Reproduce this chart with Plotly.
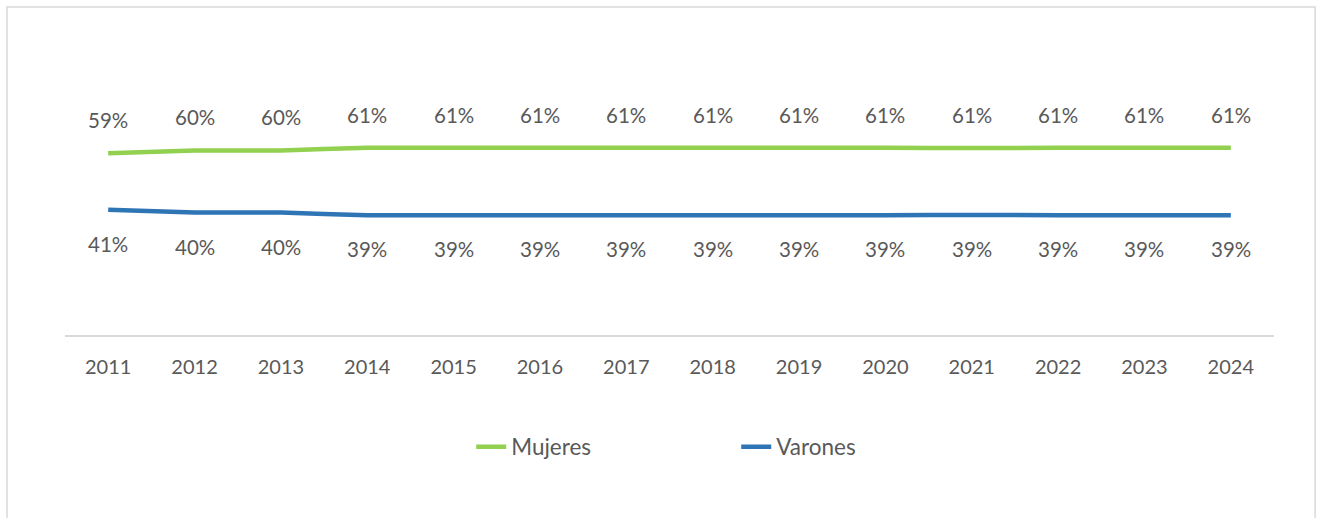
import plotly.graph_objects as go

years = ["2011", "2012", "2013", "2014", "2015", "2016", "2017",
         "2018", "2019", "2020", "2021", "2022", "2023", "2024"]
mujeres = [0.592, 0.601, 0.601, 0.610, 0.610, 0.610, 0.610,
           0.610, 0.610, 0.610, 0.609, 0.610, 0.610, 0.610]
varones = [0.408, 0.399, 0.399, 0.390, 0.390, 0.390, 0.390,
           0.390, 0.390, 0.390, 0.391, 0.390, 0.390, 0.390]

GREEN = "#92D050"
BLUE = "#2E75B6"
TXT = "#595959"
FONT = "Lato"

fig = go.Figure()
fig.add_trace(go.Scatter(x=years, y=mujeres, name="Mujeres", mode="lines",
                         line=dict(color=GREEN, width=4.5, shape="spline", smoothing=0.4)))
fig.add_trace(go.Scatter(x=years, y=varones, name="Varones", mode="lines",
                         line=dict(color=BLUE, width=4.5, shape="spline", smoothing=0.4)))

annotations = []
for i, v in enumerate(mujeres):
    annotations.append(dict(x=i, y=v, xref="x", yref="y", text=f"{round(v*100):.0f}%",
                            showarrow=False, yanchor="middle", yshift=33,
                            font=dict(family=FONT, size=20.5, color=TXT)))
for i, v in enumerate(varones):
    annotations.append(dict(x=i, y=v, xref="x", yref="y", text=f"{round(v*100):.0f}%",
                            showarrow=False, yanchor="middle", yshift=-34,
                            font=dict(family=FONT, size=20.5, color=TXT)))

fig.update_layout(
    width=1318, height=518,
    margin=dict(l=65, r=44, t=28, b=183),
    paper_bgcolor="white", plot_bgcolor="white",
    font=dict(family=FONT, size=20, color=TXT),
    showlegend=True,
    legend=dict(orientation="h", x=0.336, xanchor="left", y=-0.365, yanchor="middle",
                entrywidth=220, entrywidthmode="pixels",
                font=dict(family=FONT, size=22.5, color=TXT), itemwidth=30),
    annotations=annotations,
    shapes=[dict(type="rect", xref="paper", yref="paper", x0=-0.048, x1=1.034,
                 y0=-0.75, y1=1.068, line=dict(color="#D9D9D9", width=1.5),
                 fillcolor="rgba(0,0,0,0)", layer="below")],
)
fig.update_xaxes(type="category", range=[-0.5, 13.5], showgrid=False, showline=True,
                 linecolor="#D9D9D9", linewidth=1.5, ticks="", ticklabelstandoff=13,
                 tickfont=dict(family=FONT, size=20, color=TXT), zeroline=False)
fig.update_yaxes(range=[0, 1], visible=False, showgrid=False, zeroline=False)

fig.write_html("out.html", config={"displayModeBar": False},
               post_script="document.body.style.margin='0';document.body.style.overflow='hidden';")
